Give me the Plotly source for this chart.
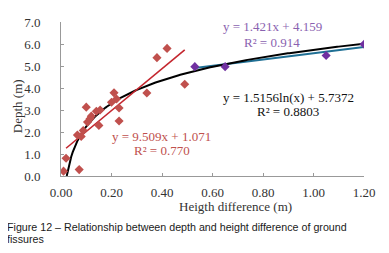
import numpy as np
import plotly.graph_objects as go

# Data
red_x = [0.01, 0.02, 0.072, 0.065, 0.08, 0.088, 0.10, 0.105, 0.115, 0.12, 0.14,
         0.15, 0.155, 0.20, 0.21, 0.22, 0.23, 0.23, 0.34, 0.38, 0.42, 0.49]
red_y = [0.22, 0.81, 0.29, 1.86, 1.80, 2.07, 3.13, 2.45, 2.60, 2.72, 2.94,
         2.30, 3.00, 3.35, 3.78, 3.50, 3.09, 2.50, 3.77, 5.38, 5.80, 4.17]
purple_x = [0.53, 0.65, 1.05, 1.2]
purple_y = [4.97, 4.97, 5.48, 5.99]

# fitted relationships (from the chart's equations)
lin_red = (9.509, 1.071)
lin_purple = (1.421, 4.159)
log_fit = (1.5156, 5.7372)

x_ticks = [0.0, 0.2, 0.4, 0.6, 0.8, 1.0, 1.2]
y_ticks = [0, 1, 2, 3, 4, 5, 6, 7]

RED = "#c0504d"
RED_LINE = "#c4262e"
PURPLE = "#7030a0"
PURPLE_TXT = "#8a62b0"
SERIF = "Liberation Serif, Times New Roman, serif"
FS = 13

OFF = 8  # page body margin
W, H = 389 - OFF, 253 - OFF
L, T = 61 - OFF, 15 - OFF
R = W - (364 - OFF)
B = H - (176 - OFF)
PW, PH = W - L - R, H - T - B

fig = go.Figure()

xl = np.linspace(np.exp(-log_fit[1] / log_fit[0]), 1.2, 200)
yl = log_fit[0] * np.log(xl) + log_fit[1]

xp = np.array([purple_x[0], purple_x[-1]])
fig.add_trace(go.Scatter(x=xp, y=lin_purple[0] * xp + lin_purple[1], mode="lines",
                         line=dict(color="#1f6f94", width=2), hoverinfo="skip"))
fig.add_trace(go.Scatter(x=xl, y=yl, mode="lines", line=dict(color="black", width=2),
                         hoverinfo="skip"))
xr = np.array([0.02, 0.49])
fig.add_trace(go.Scatter(x=xr, y=lin_red[0] * xr + lin_red[1], mode="lines",
                         line=dict(color=RED_LINE, width=1.6), hoverinfo="skip"))

fig.add_trace(go.Scatter(x=red_x, y=red_y, mode="markers",
                         marker=dict(symbol="diamond", size=7, color=RED)))
fig.add_trace(go.Scatter(x=purple_x, y=purple_y, mode="markers",
                         marker=dict(symbol="diamond", size=7, color=PURPLE)))

def px(xp_, yp_):
    # convert reference page pixels to paper coordinates
    xf, yf = xp_ - OFF, yp_ - OFF
    return (xf - L) / PW, (H - B - yf) / PH

ann = []
def txt(cx, cy, s, color, size=FS, font=SERIF, anchor="center", angle=0):
    x_, y_ = px(cx, cy)
    ann.append(dict(x=x_, y=y_, xref="paper", yref="paper", text=s, showarrow=False,
                    font=dict(family=font, size=size, color=color), textangle=angle,
                    xanchor=anchor, yanchor="middle", borderpad=0))

for (cx, cy, s, c) in [
    (272, 20, "y = 1.421x + 4.159", PURPLE_TXT),
    (272, 36, "R² = 0.914", PURPLE_TXT),
    (288, 93.5, "y = 1.5156ln(x) + 5.7372", "#111"),
    (288, 108.5, "R² = 0.8803", "#111"),
    (161, 135, "y = 9.509x + 1.071", RED),
    (162, 149, "R² = 0.770", RED),
    (235, 207.5, "Heigth difference (m)", "#333"),
]:
    txt(cx, cy, s, c)

txt(17, 103, "Depth (m)", "#333", angle=-90)
txt(6, 229, "Figure 12 – Relationship between depth and height difference of ground",
    "#1a1a1a", size=10.7, font="Liberation Sans, Arial", anchor="left")
txt(6, 242, "fissures", "#1a1a1a", size=10.7, font="Liberation Sans, Arial", anchor="left")

fig.update_layout(
    width=W, height=H,
    margin=dict(l=L, r=R, t=T, b=B),
    paper_bgcolor="white", plot_bgcolor="white",
    showlegend=False,
    annotations=ann,
    xaxis=dict(range=[0, 1.2], tickvals=x_ticks, ticktext=[f"{v:.2f}" for v in x_ticks],
               showgrid=False, zeroline=False, showline=True, linecolor="#999", linewidth=1,
               ticks="inside", ticklen=3, tickcolor="#999", ticklabeloverflow="allow",
               tickfont=dict(family=SERIF, size=FS, color="#333"), ticklabelstandoff=4),
    yaxis=dict(range=[0, 7], tickvals=y_ticks, ticktext=[f"{v:.1f}" for v in y_ticks],
               showgrid=False, zeroline=False, showline=True, linecolor="#999", linewidth=1,
               ticks="inside", ticklen=3, tickcolor="#999", ticklabeloverflow="allow",
               tickfont=dict(family=SERIF, size=FS, color="#333"), ticklabelstandoff=17),
)

fig.write_html("out.html")
